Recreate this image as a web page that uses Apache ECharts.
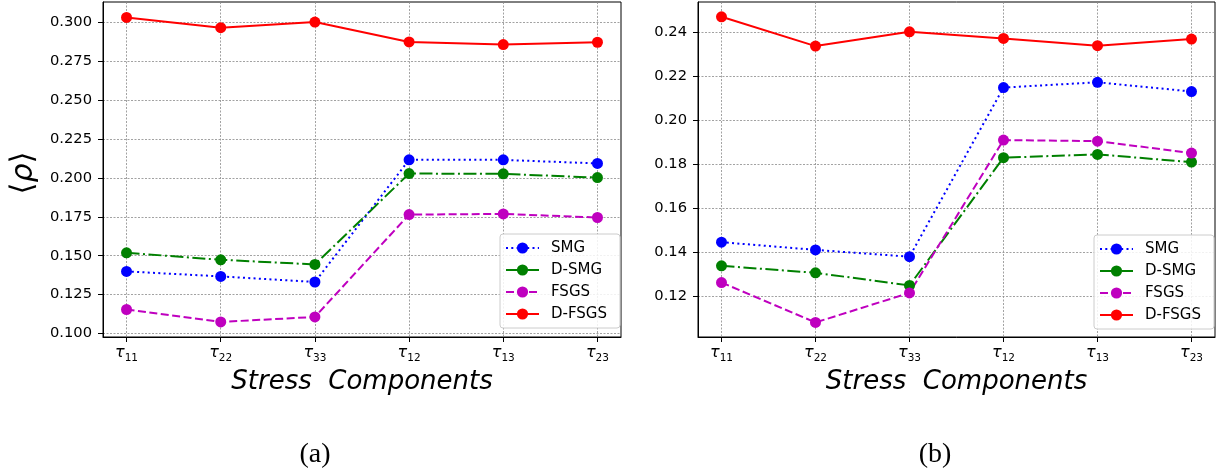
<!DOCTYPE html>
<html>
<head>
<meta charset="utf-8">
<script src="https://cdn.jsdelivr.net/npm/echarts@6/dist/echarts.min.js"></script>
<style>
  html, body { margin: 0; padding: 0; background: #fff; }
  #chart { width: 1220px; height: 474px; }
</style>
</head>
<body>
<div id="chart"></div>
<script>
// Stress component subscripts (x axis categories)
const categories = ['11', '22', '33', '12', '13', '23'];
const seriesNames = ['SMG', 'D-SMG', 'FSGS', 'D-FSGS'];

// Panel (a)
const smgA   = [0.1399, 0.1367, 0.1331, 0.2117, 0.2117, 0.2094];
const dsmgA  = [0.1519, 0.1474, 0.1444, 0.2029, 0.2027, 0.2003];
const fsgsA  = [0.1154, 0.1074, 0.1106, 0.1765, 0.1769, 0.1746];
const dfsgsA = [0.3034, 0.2968, 0.3004, 0.2876, 0.2859, 0.2874];

// Panel (b)
const smgB   = [0.1446, 0.1411, 0.1380, 0.2147, 0.2171, 0.2129];
const dsmgB  = [0.1339, 0.1307, 0.1250, 0.1829, 0.1844, 0.1809];
const fsgsB  = [0.1263, 0.1082, 0.1216, 0.1909, 0.1904, 0.1850];
const dfsgsB = [0.2468, 0.2335, 0.2400, 0.2370, 0.2337, 0.2367];

// Y tick values and labels
const yTicksA = [0.100, 0.125, 0.150, 0.175, 0.200, 0.225, 0.250, 0.275, 0.300];
const yTickLabelsA = ['0.100', '0.125', '0.150', '0.175', '0.200', '0.225', '0.250', '0.275', '0.300'];
const yTicksB = [0.12, 0.14, 0.16, 0.18, 0.20, 0.22, 0.24];
const yTickLabelsB = ['0.12', '0.14', '0.16', '0.18', '0.20', '0.22', '0.24'];

const xTickPositions = categories.map((_, i) => i);

const FONT = 'DejaVu Sans';
const colors = { 'SMG': '#0000ff', 'D-SMG': '#008000', 'FSGS': '#bf00bf', 'D-FSGS': '#ff0000' };
const dashes = { 'SMG': [2, 3.3], 'D-SMG': [13, 3.5, 2, 3.5], 'FSGS': [8, 3.5], 'D-FSGS': 'solid' };

const gridLine = { show: true, lineStyle: { color: '#8a8a8a', width: 0.8, type: [2, 1.5] } };

function labelFor(ticks, labels) {
  return v => {
    const i = ticks.findIndex(t => Math.abs(t - v) < 1e-9);
    return i >= 0 ? labels[i] : '';
  };
}

function makeXAxis(gridIndex) {
  return {
    type: 'value', gridIndex, min: -0.25, max: 5.25,
    axisLine: { show: true, onZero: false, lineStyle: { color: '#000', width: 1 } },
    axisTick: { show: true, inside: false, length: 5, lineStyle: { color: '#000', width: 1 }, customValues: xTickPositions },
    axisLabel: {
      customValues: xTickPositions, margin: 8,
      formatter: v => '{t|τ}{s|' + categories[Math.round(v)] + '}',
      rich: {
        t: { fontFamily: FONT, fontStyle: 'italic', fontSize: 16, color: '#000', lineHeight: 20, verticalAlign: 'top' },
        s: { fontFamily: FONT, fontSize: 10.5, color: '#000', lineHeight: 12, verticalAlign: 'top', padding: [8, 0, 0, 0] }
      }
    },
    splitLine: gridLine,
    name: 'Stress  Components', nameLocation: 'middle', nameGap: 31,
    nameTextStyle: { fontFamily: FONT, fontStyle: 'italic', fontSize: 26, color: '#000' }
  };
}

function makeYAxis(gridIndex, min, max, ticks, labels) {
  return {
    type: 'value', gridIndex, min, max,
    axisLine: { show: true, onZero: false, lineStyle: { color: '#000', width: 1 } },
    axisTick: { show: true, inside: false, length: 5, lineStyle: { color: '#000', width: 1 }, customValues: ticks },
    axisLabel: {
      customValues: ticks, margin: 11,
      fontFamily: FONT, fontSize: 14.7, color: '#000',
      formatter: labelFor(ticks, labels)
    },
    splitLine: gridLine
  };
}

function makeSeries(name, values, axisIndex) {
  return {
    name, type: 'line', xAxisIndex: axisIndex, yAxisIndex: axisIndex,
    data: values.map((v, i) => [i, v]),
    symbol: 'circle', symbolSize: 11, showSymbol: true,
    itemStyle: { color: colors[name] },
    lineStyle: { color: colors[name], width: 2, type: dashes[name], cap: 'butt' },
    emphasis: { disabled: true },
    animation: false
  };
}

function makeLegend(left, top) {
  return {
    orient: 'vertical', left, top,
    data: seriesNames,
    itemWidth: 33, itemHeight: 14, itemGap: 4,
    padding: [5, 13, 5, 5],
    backgroundColor: 'rgba(255,255,255,0.85)',
    borderColor: '#cccccc', borderWidth: 1, borderRadius: 3,
    selectedMode: false,
    textStyle: { fontFamily: FONT, fontSize: 15, color: '#000', lineHeight: 18, padding: [0, 0, 0, 7] }
  };
}

const chart = echarts.init(document.getElementById('chart'), null, { renderer: 'canvas' });

chart.setOption({
  backgroundColor: '#fff',
  animation: false,
  grid: [
    { left: 103, top: 2, width: 518, height: 335, show: true, borderColor: '#000', borderWidth: 1, backgroundColor: 'transparent' },
    { left: 698, top: 2, width: 517, height: 335, show: true, borderColor: '#000', borderWidth: 1, backgroundColor: 'transparent' }
  ],
  xAxis: [makeXAxis(0), makeXAxis(1)],
  yAxis: [
    makeYAxis(0, 0.0977, 0.3133, yTicksA, yTickLabelsA),
    makeYAxis(1, 0.1016, 0.2535, yTicksB, yTickLabelsB)
  ],
  legend: [makeLegend(500, 234), makeLegend(1094, 235)],
  series: [
    makeSeries('SMG', smgA, 0),
    makeSeries('D-SMG', dsmgA, 0),
    makeSeries('FSGS', fsgsA, 0),
    makeSeries('D-FSGS', dfsgsA, 0),
    makeSeries('SMG', smgB, 1),
    makeSeries('D-SMG', dsmgB, 1),
    makeSeries('FSGS', fsgsB, 1),
    makeSeries('D-FSGS', dfsgsB, 1)
  ],
  graphic: [
    {
      type: 'text', x: 24, y: 173, rotation: Math.PI / 2,
      style: {
        text: '{b|⟨}{r|ρ}{b|⟩}', align: 'center', verticalAlign: 'middle',
        rich: {
          b: { fontFamily: FONT, fontSize: 31, fill: '#000', color: '#000' },
          r: { fontFamily: FONT, fontStyle: 'italic', fontSize: 30, fill: '#000', color: '#000' }
        }
      }
    },
    {
      type: 'text', x: 315, y: 455,
      style: { text: '(a)', font: '28px "Liberation Serif"', fill: '#000', align: 'center', verticalAlign: 'middle' }
    },
    {
      type: 'text', x: 935, y: 455,
      style: { text: '(b)', font: '28px "Liberation Serif"', fill: '#000', align: 'center', verticalAlign: 'middle' }
    }
  ]
});
</script>
</body>
</html>
